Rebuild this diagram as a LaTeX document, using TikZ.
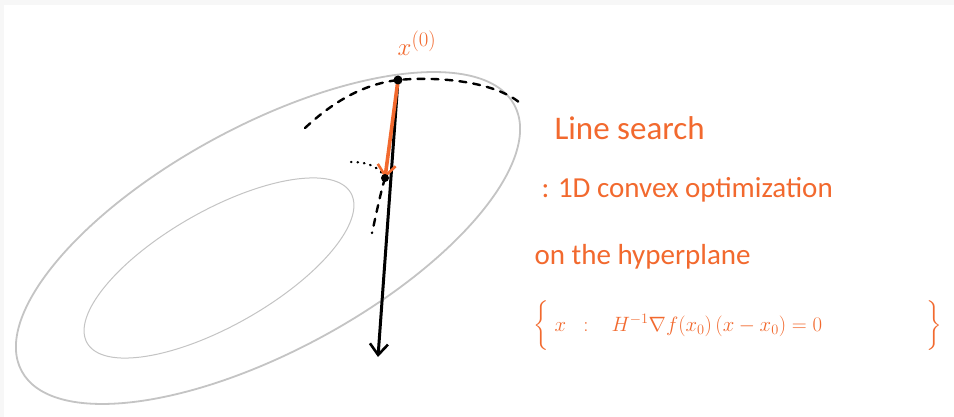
\documentclass[tikz,border=0pt]{standalone}
\usepackage{amsmath,amssymb}
\usepackage{fontspec}
\setmainfont{Carlito}
\usetikzlibrary{arrows.meta}
\usepackage{xcolor}
\definecolor{penorange}{HTML}{F2692E}
\definecolor{levelgray}{HTML}{C4C4C4}

\begin{document}
\begin{tikzpicture}[x=1pt,y=-1pt,>={Straight Barb[length=11pt,width=18pt,line width=2.6pt]},line cap=round,
  level/.style={levelgray,line width=1.8pt},
  dashline/.style={line width=2.4pt,dash pattern=on 7pt off 7pt},
  textline/.style={anchor=base west,penorange,font=\fontsize{29}{32}\selectfont}]
\useasboundingbox (0,0) rectangle (954,417);
\fill[gray!6] (0,0) rectangle (954,417);
\fill[white] (4,5) rectangle (954,417);
% level sets
\draw[level] (268,238) ellipse[x radius=280,y radius=112.6,rotate=28.4];
\draw[levelgray,line width=1pt] (219,268) ellipse[x radius=151.7,y radius=57.5,rotate=29.6];
% points
\coordinate (x0) at (398,80);
\coordinate (x1) at (385,178);
\coordinate (tip) at (378,357);
% tangent of the outer level set
\draw[dashline] (305,128) .. controls (335,100) and (365,84) .. (x0)
  .. controls (440,76) and (495,82) .. (520,103);
% local level set at the new point
\draw[line width=2.4pt,dash pattern=on 0.5pt off 6pt] (351,162) .. controls (370,162) and (380,168) .. (x1);
\draw[dashline] (x1) .. controls (380,195) and (376,215) .. (372,233);
% search line and step
\draw[->,line width=3pt] (x0) -- (tip);
\draw[->,penorange,line width=3.6pt] (x0) -- (x1);
\fill (x0) circle (4.5pt);
\fill (x1) circle (4pt);
\node[penorange,font=\fontsize{24.88}{28}\selectfont] (lab) at (417,43) {$x^{(0)}$};
% explanation
\node[textline,font=\fontsize{33}{36}\selectfont] (l1) at (551,140) {Line search};
\node[textline] (l2) at (538,197) {: 1D convex optimization};
\node[textline] (l3) at (531,265) {on the hyperplane};
\node[textline,font=\fontsize{20.74}{24}\selectfont,inner sep=0pt] (l4) at (533,331)
  {$\bigg\{\;x\;\;:\;\;\; H^{-1}\nabla f(x_0)\,(x-x_0)=0\hspace{104pt}\bigg\}$};
\end{tikzpicture}
\end{document}
